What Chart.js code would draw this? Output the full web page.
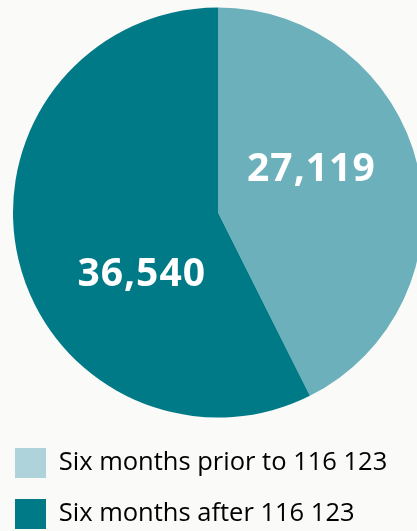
<!DOCTYPE html>
<html>
<head>
<meta charset="utf-8">
<script src="https://cdn.jsdelivr.net/npm/chart.js@4/dist/chart.umd.min.js"></script>
<style>
  html, body { margin: 0; padding: 0; width: 417px; height: 531px; overflow: hidden; background: #fafaf8; }
  #wrap { position: absolute; left: -6px; top: -2px; width: 448px; height: 541px; }
</style>
</head>
<body>
<div id="wrap"><canvas id="pie"></canvas></div>
<script>
// Calls to the 116 123 helpline, before and after launch
const categories = ['Six months prior to 116 123', 'Six months after 116 123'];
const callCounts = [27119, 36540];
const sliceColors = ['#6cb0bb', '#007a87'];
const legendColors = ['#aed3da', '#007a87'];
// where each value label sits inside its slice: share of the slice angle, share of the radius
const labelAngleShare = [0.417, 0.38];
const labelRadiusShare = [0.507, 0.473];

const sliceLabels = {
  id: 'sliceLabels',
  afterDatasetsDraw(chart) {
    const ctx = chart.ctx;
    const meta = chart.getDatasetMeta(0);
    const size = 39;
    ctx.save();
    ctx.fillStyle = '#ffffff';
    ctx.font = 'bold ' + size + 'px "Open Sans"';
    if ('letterSpacing' in ctx) ctx.letterSpacing = '1px';
    ctx.textAlign = 'center';
    ctx.textBaseline = 'alphabetic';
    // centre the digits (cap height ~0.714em) on the anchor point
    const half = size * 0.714 / 2;
    meta.data.forEach((arc, i) => {
      const a = arc.startAngle + (arc.endAngle - arc.startAngle) * labelAngleShare[i];
      const r = arc.outerRadius * labelRadiusShare[i];
      const text = callCounts[i].toLocaleString('en-US');
      ctx.fillText(text, arc.x + r * Math.cos(a), arc.y + r * Math.sin(a) + half);
    });
    ctx.restore();
  }
};

new Chart(document.getElementById('pie'), {
  type: 'pie',
  data: {
    labels: categories,
    datasets: [{
      data: callCounts,
      backgroundColor: sliceColors,
      borderWidth: 0
    }]
  },
  options: {
    responsive: true,
    maintainAspectRatio: false,
    animation: false,
    radius: 205,
    layout: { padding: 0 },
    plugins: {
      tooltip: { enabled: false },
      legend: {
        position: 'bottom',
        align: 'start',
        labels: {
          boxWidth: 31,
          boxHeight: 30,
          padding: 21,
          color: '#141414',
          font: { family: '"Open Sans"', size: 25.5 },
          generateLabels(chart) {
            return categories.map((text, i) => ({
              text,
              fillStyle: legendColors[i],
              strokeStyle: legendColors[i],
              lineWidth: 0,
              hidden: false,
              index: i
            }));
          }
        }
      }
    }
  },
  plugins: [sliceLabels]
});
</script>
</body>
</html>
